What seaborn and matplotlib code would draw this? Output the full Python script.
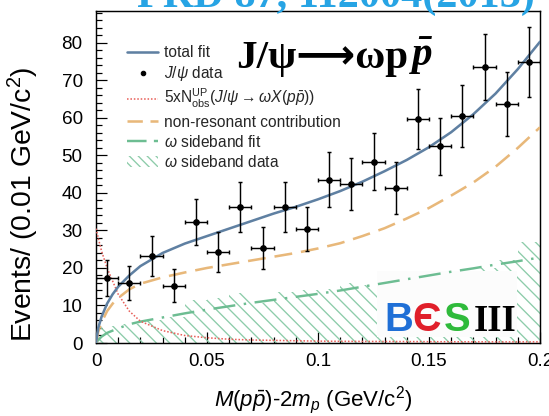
import numpy as np
import pandas as pd
import matplotlib
matplotlib.use("Agg")
import matplotlib.pyplot as plt
import seaborn as sns
from matplotlib.lines import Line2D
from matplotlib.patches import Patch, Rectangle
from matplotlib.ticker import MultipleLocator

# ---------------- data ----------------
bin_centers = [0.005, 0.015, 0.025, 0.035, 0.045, 0.055, 0.065, 0.075, 0.085, 0.095,
               0.105, 0.115, 0.125, 0.135, 0.145, 0.155, 0.165, 0.175, 0.185, 0.195]
jpsi_counts = [17.3, 16.0, 23.2, 15.2, 32.3, 24.3, 36.3, 25.3, 36.3, 30.4,
               43.5, 42.4, 48.3, 41.3, 59.7, 52.5, 60.5, 73.6, 63.7, 74.9]
jpsi_errors = [4.7, 4.6, 5.4, 4.4, 6.2, 5.4, 6.6, 5.7, 6.7, 5.8,
               7.3, 7.0, 7.6, 7.0, 8.0, 7.6, 8.3, 8.9, 8.5, 9.3]
sideband_counts = [4.5, 5.0, 6.0, 7.0, 11.5, 12.0, 13.3, 10.7, 13.5, 14.0,
                   14.5, 16.0, 15.5, 17.0, 16.0, 18.0, 19.0, 20.0, 22.0, 27.0]

curve_x = [0, 0.001, 0.0025, 0.005, 0.0075, 0.01, 0.015, 0.02, 0.03, 0.04, 0.05, 0.06, 0.07,
           0.08, 0.09, 0.10, 0.11, 0.12, 0.13, 0.14, 0.15, 0.16, 0.17, 0.18, 0.19, 0.20]
total_fit = [0, 4, 7, 10.5, 13, 15, 18, 20.5, 24, 26.5, 28.5, 30.5, 32.5,
             34.5, 36.3, 38.3, 40.5, 43, 45.8, 48.8, 52.2, 56.2, 61, 66.5, 73, 80.3]
nonresonant = [0, 3, 5.5, 8.5, 10.5, 12, 14.3, 15.8, 17.5, 18.8, 20, 21, 22,
               23, 24, 25.2, 26.6, 28.5, 30.6, 33.2, 36, 39.3, 42.8, 47, 52, 57.5]
sideband_fit = [0, 0.8, 1.7, 2.7, 3.3, 3.9, 5.0, 5.7, 6.8, 7.9, 8.9, 9.8, 10.7,
                11.5, 12.3, 13.1, 14.0, 15.0, 16.0, 17.0, 18.0, 19.0, 19.9, 20.9, 21.8, 22.8]
upper_limit_5x = [30.5, 28, 24.5, 20, 16.5, 13, 8.5, 5.8, 3.3, 2.0, 1.4, 1.0, 0.8,
                  0.7, 0.6, 0.5, 0.45, 0.42, 0.4, 0.38, 0.35, 0.33, 0.32, 0.3, 0.3, 0.3]

x_ticks = [0, 0.05, 0.1, 0.15, 0.2]
x_tick_labels = ["0", "0.05", "0.1", "0.15", "0.2"]
y_ticks = [0, 10, 20, 30, 40, 50, 60, 70, 80]

legend_labels = [
    "total fit",
    r"$J/\psi$ data",
    r"5xN$^{\mathrm{UP}}_{\mathrm{obs}}$($J/\psi\rightarrow\omega X(p\bar{p})$)",
    "non-resonant contribution",
    r"$\omega$ sideband fit",
    r"$\omega$ sideband data",
]

# ---------------- style ----------------
sns.set_theme(style="white")
plt.rcParams["font.family"] = ["Liberation Sans", "DejaVu Sans"]
plt.rcParams["mathtext.fontset"] = "custom"
plt.rcParams["mathtext.rm"] = "Liberation Sans"
plt.rcParams["mathtext.it"] = "Liberation Sans:italic"
plt.rcParams["mathtext.bf"] = "Liberation Serif:bold"
plt.rcParams["mathtext.bfit"] = "Liberation Serif:italic:bold"
plt.rcParams["hatch.linewidth"] = 1.2

C_TOTAL = "#5f80a2"
C_NONRES = "#e8b87a"
C_SB = "#6dbd92"
C_HATCH = "#8dccaa"
C_RED = "#e8605a"

DPI = 80
W, H = 549, 416
fig = plt.figure(figsize=(W / DPI, H / DPI), dpi=DPI)
fig.patch.set_facecolor("white")
ax = fig.add_axes([96 / W, 1 - 343 / H, 444 / W, 332 / H])

curves = pd.DataFrame({"x": curve_x, "total": total_fit, "nonres": nonresonant,
                       "sb": sideband_fit, "ul": upper_limit_5x})

# sideband data (hatched histogram)
bin_width = bin_centers[1] - bin_centers[0]
ax.bar(bin_centers, sideband_counts, width=bin_width, facecolor="none",
       edgecolor=C_HATCH, linewidth=0, hatch="\\\\", zorder=1)

# BESIII logo box (covers hatch)
ax.add_patch(Rectangle((0.633, 0.018), 0.315, 0.2, transform=ax.transAxes,
                       facecolor="#fcfcfc", edgecolor="none", zorder=2))

sns.lineplot(data=curves, x="x", y="sb", ax=ax, color=C_SB, lw=2.2,
             linestyle=(0, (9, 3.5, 1, 3.5)), sort=False, estimator=None, zorder=3)
sns.lineplot(data=curves, x="x", y="ul", ax=ax, color=C_RED, lw=1.4,
             linestyle=(0, (1, 1.2)), sort=False, estimator=None, zorder=3)
sns.lineplot(data=curves, x="x", y="nonres", ax=ax, color=C_NONRES, lw=2.3,
             linestyle=(0, (7, 3.5)), sort=False, estimator=None, zorder=3)
sns.lineplot(data=curves, x="x", y="total", ax=ax, color=C_TOTAL, lw=2.3,
             sort=False, estimator=None, zorder=4)

ax.errorbar(bin_centers, jpsi_counts, xerr=bin_width / 2, yerr=jpsi_errors, fmt="o",
            color="black", ms=5, elinewidth=1.3, capsize=2, capthick=1.3, zorder=5)

# axes
ax.set_xlim(0, 0.2)
ax.set_ylim(0, 88.5)
ax.set_xticks(x_ticks, labels=x_tick_labels)
ax.set_yticks(y_ticks)
ax.xaxis.set_minor_locator(MultipleLocator(0.01))
ax.yaxis.set_minor_locator(MultipleLocator(2))
ax.tick_params(which="both", direction="in", bottom=True, left=True, top=False, right=False,
               color="black", width=1.1)
ax.tick_params(which="major", length=10, labelsize=17, labelcolor="black")
ax.tick_params(which="minor", length=5)
ax.tick_params(axis="y", which="major", pad=12)
ax.tick_params(axis="x", which="major", pad=9)
for s in ax.spines.values():
    s.set_color("black")
    s.set_linewidth(1.3)

ax.set_xlabel(r"$M(p\bar{p})$-2$m_{p}$ (GeV/c$^{2}$)", fontsize=20, color="black")
ax.xaxis.set_label_coords(0.49, -0.125)
ax.set_ylabel(r"Events/ (0.01 GeV/c$^{2}$)", fontsize=25.5, color="black", ha="right")
ax.yaxis.set_label_coords(-0.124, 0.833)

# legend
handles = [
    Line2D([], [], color=C_TOTAL, lw=2.3),
    Line2D([], [], color="black", marker="o", ls="none", ms=4),
    Line2D([], [], color=C_RED, lw=1.4, linestyle=(0, (1, 1.2))),
    Line2D([], [], color=C_NONRES, lw=2.3, linestyle=(0, (6, 3))),
    Line2D([], [], color=C_SB, lw=2.2, linestyle=(0, (8, 3))),
    Patch(facecolor="none", edgecolor=C_HATCH, linewidth=0, hatch="\\\\\\"),
]
ax.legend(handles, legend_labels, loc="upper left", bbox_to_anchor=(0.07, 0.897),
          frameon=False, fontsize=14, handlelength=2.0, handletextpad=0.4,
          labelspacing=0.26, borderpad=0, borderaxespad=0)

# big reaction label: bold serif part + bold italic p-bar anchored right after it
t1 = fig.text(236 / W, 1 - 68 / H, "J/\u03c8\u27f6\u03c9p", fontsize=37, color="black",
              family=["Liberation Serif", "DejaVu Sans"], fontweight="bold",
              ha="left", va="baseline")
ax.annotate(r"$\mathbfit{\bar{p}}$", xy=(1, 0), xycoords=t1, xytext=(1, 0),
            textcoords="offset points", fontsize=37, color="black",
            ha="left", va="bottom", annotation_clip=False)

# reference (cut off at top)
fig.text(137 / W, 1 - 7 / H, "PRD 87, 112004(2013)", color="#27a4e4", fontsize=38,
         family=["Liberation Serif", "DejaVu Serif"], fontweight="bold",
         ha="left", va="baseline")

# BESIII logo letters
logo_y = 0.035
ax.text(0.650, logo_y, "B", transform=ax.transAxes, color="#1f6fd6", fontsize=36,
        fontweight="bold", ha="left", va="baseline", zorder=6)
ax.text(0.712, logo_y, "\u0404", transform=ax.transAxes, color="#e01f2a", fontsize=36,
        fontweight="bold", ha="left", va="baseline", zorder=6)
ax.text(0.783, logo_y, "S", transform=ax.transAxes, color="#2fba3b", fontsize=36,
        fontweight="bold", ha="left", va="baseline", zorder=6)
ax.text(0.850, logo_y, "III", transform=ax.transAxes, color="black", fontsize=33,
        family=["Liberation Serif", "DejaVu Serif"], fontweight="bold",
        ha="left", va="baseline", zorder=6)

fig.savefig("out.png", dpi=DPI, facecolor="white")
